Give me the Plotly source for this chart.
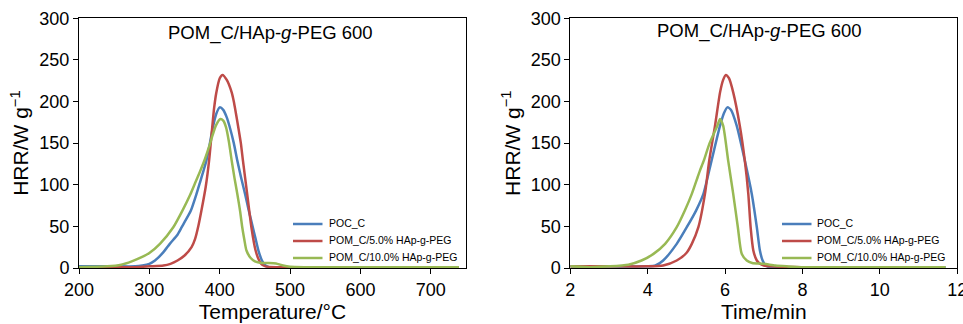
import plotly.graph_objects as go

# ---------------- data ----------------
# Left panel: HRR vs temperature (°C)
poc_c_temp = [200, 250, 280, 290, 300, 308, 320, 329, 340, 346, 350, 359, 367, 372, 377, 381, 385,
              390, 395, 400, 405, 410, 414, 420, 425, 430, 436, 441, 447, 451, 455, 460, 465, 470,
              500, 600, 740]
poc_c_hrr_T = [2, 2, 2, 3, 5, 9, 19, 29, 40, 49, 55, 69, 89, 103, 117, 129, 145,
               168, 185, 193, 190, 181, 170, 150, 129, 110, 89, 70, 49, 35, 21, 9, 3, 1,
               1, 1, 1]
pom5_temp = [200, 280, 300, 320, 330, 340, 350, 360, 365, 370, 374, 380, 385, 390, 392, 395, 400,
             404, 410, 417, 420, 426, 430, 433, 439, 445, 451, 456, 460, 465, 480, 600, 740]
pom5_hrr_T = [1, 1, 2, 3, 5, 9, 15, 25, 35, 52, 69, 97, 130, 175, 192, 210, 228,
              232, 226, 211, 200, 171, 150, 129, 89, 49, 21, 9, 4, 2, 1, 1, 1]
pom10_temp = [200, 240, 260, 275, 289, 300, 315, 334, 347, 358, 365, 372, 379, 385, 390, 395, 401,
              405, 409, 413, 417, 421, 425, 429, 432, 435, 438, 444, 450, 460, 470, 480, 490, 500,
              520, 740]
pom10_hrr_T = [1, 2, 4, 8, 13, 18, 29, 49, 69, 88, 102, 116, 131, 146, 160, 172, 179,
               177, 169, 152, 129, 108, 89, 68, 49, 34, 21, 12, 8, 6, 6, 5.5, 3, 1.5,
               1, 1]

# Right panel: HRR vs time (min)
poc_c_time = [2, 3, 4, 4.2, 4.4, 4.75, 5.01, 5.25, 5.44, 5.65, 5.87, 5.97, 6.06, 6.15, 6.3, 6.51,
              6.69, 6.82, 6.9, 6.97, 7.05, 7.15, 8, 10, 11.7]
poc_c_hrr_t = [2, 2, 2, 3, 9, 29, 49, 69, 89, 129, 171, 186, 193, 190, 171, 129,
               89, 49, 21, 9, 3, 1, 1, 1, 1]
pom5_time = [2, 3, 4, 4.4, 4.75, 5.0, 5.14, 5.31, 5.48, 5.59, 5.74, 5.87, 5.95, 6.02, 6.1, 6.21,
             6.38, 6.51, 6.6, 6.66, 6.73, 6.82, 6.9, 7.0, 7.2, 8, 10, 11.6]
pom5_hrr_t = [2, 2, 2, 3, 9, 18, 29, 49, 89, 129, 171, 211, 226, 232, 228, 211,
              171, 129, 89, 49, 21, 9, 5, 3, 2, 1, 1, 1]
pom10_time = [2, 2.5, 3, 3.5, 3.84, 4.15, 4.45, 4.75, 4.96, 5.14, 5.29, 5.35, 5.45, 5.6, 5.8, 5.87,
              5.95, 6.08, 6.21, 6.33, 6.43, 6.56, 6.7, 7.0, 7.3, 7.6, 8, 10, 11.7]
pom10_hrr_t = [2, 1, 2, 4, 9, 17, 29, 49, 69, 89, 109, 117, 129, 150, 171, 179,
               171, 129, 89, 49, 17, 9, 6, 5, 3, 2, 1, 1, 1]

series_names = ["POC_C", "POM_C/5.0% HAp-g-PEG", "POM_C/10.0% HAp-g-PEG"]
colors = ["#4a7ebb", "#be4b48", "#98b954"]
title_text = "POM_C/HAp-<i>g</i>-PEG 600"

FONT = "Liberation Sans, Arial, Helvetica, sans-serif"

fig = go.Figure()

left_sets = [(poc_c_temp, poc_c_hrr_T), (pom5_temp, pom5_hrr_T), (pom10_temp, pom10_hrr_T)]
right_sets = [(poc_c_time, poc_c_hrr_t), (pom5_time, pom5_hrr_t), (pom10_time, pom10_hrr_t)]

for name, (xs, ys), c in zip(series_names, left_sets, colors):
    fig.add_trace(go.Scatter(x=xs, y=ys, name=name, mode="lines", showlegend=False,
                             line=dict(color=c, width=2.5, shape="spline", smoothing=0.6),
                             xaxis="x", yaxis="y"))
for name, (xs, ys), c in zip(series_names, right_sets, colors):
    fig.add_trace(go.Scatter(x=xs, y=ys, name=name, mode="lines", showlegend=False,
                             line=dict(color=c, width=2.5, shape="spline", smoothing=0.6),
                             xaxis="x2", yaxis="y2"))

W, H = 963, 324
def px(x):
    return x / W
def py(y):
    return 1 - y / H

axis_common = dict(showline=True, linecolor="black", linewidth=1, mirror=True,
                   ticks="outside", ticklen=5, tickcolor="black", showgrid=False,
                   zeroline=False, automargin=False, ticklabeloverflow="allow",
                   tickfont=dict(size=18, color="black", family=FONT))

# legend (drawn as layout decoration, one per panel)
shapes = []
annotations = []
legend_rows_y = [224, 241, 258]
for (line_x0, line_x1, text_x) in [(293, 322.5, 326.5), (782, 811.5, 815)]:
    for name, c, yy in zip(series_names, colors, legend_rows_y):
        shapes.append(dict(type="line", xref="paper", yref="paper",
                           x0=px(line_x0), x1=px(line_x1), y0=py(yy), y1=py(yy),
                           line=dict(color=c, width=2.5)))
        annotations.append(dict(text=name, x=px(text_x), y=py(yy - 1), xref="paper", yref="paper",
                                xanchor="left", yanchor="middle", showarrow=False,
                                font=dict(size=10.5, color="black")))

annotations += [
    dict(text=title_text, x=px(270), y=py(33), xref="paper", yref="paper",
         xanchor="center", yanchor="middle", showarrow=False, font=dict(size=18.5)),
    dict(text=title_text, x=px(759), y=py(31), xref="paper", yref="paper",
         xanchor="center", yanchor="middle", showarrow=False, font=dict(size=18.5)),
]

fig.update_layout(
    width=W, height=H, margin=dict(l=0, r=0, t=0, b=0, autoexpand=False),
    paper_bgcolor="white", plot_bgcolor="white",
    font=dict(family=FONT, color="black"),
    xaxis=dict(domain=[px(79), px(466)], range=[200, 750], tickvals=[200, 300, 400, 500, 600, 700],
               title=dict(text="Temperature/°C", font=dict(size=21), standoff=4),
               anchor="y", **axis_common),
    yaxis=dict(domain=[py(268), py(18.3)], range=[0, 300], dtick=50,
               title=dict(text="HRR/W g<sup>−1</sup>", font=dict(size=21), standoff=4),
               anchor="x", **axis_common),
    xaxis2=dict(domain=[px(570.3), px(957.3)], range=[2, 12.001], tickvals=[2, 4, 6, 8, 10, 12],
                title=dict(text="Time/min", font=dict(size=21), standoff=4),
                anchor="y2", **axis_common),
    yaxis2=dict(domain=[py(268), py(18.3)], range=[0, 300], dtick=50,
                title=dict(text="HRR/W g<sup>−1</sup>", font=dict(size=21), standoff=4),
                anchor="x2", **axis_common),
    showlegend=False,
    shapes=shapes,
    annotations=annotations,
)

fig.write_html("out.html")
